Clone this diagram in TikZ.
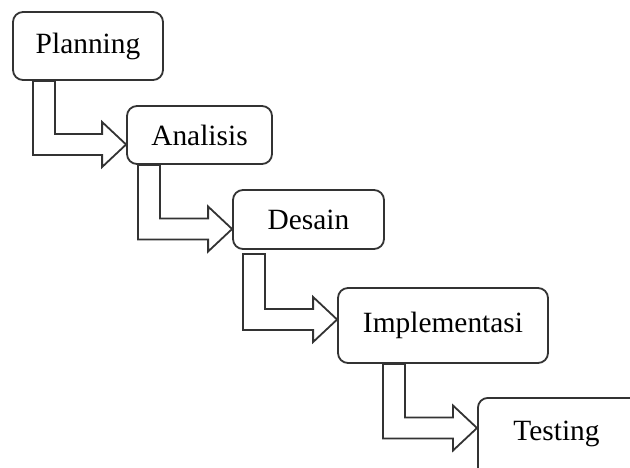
\documentclass[tikz,border=0pt]{standalone}
\usepackage{fontspec}
\setmainfont{Liberation Serif}
\usetikzlibrary{calc}
\tikzset{
  stage/.style={draw=black!80, line width=0.9pt, rounded corners=5pt, inner sep=0pt, font=\fontsize{14.7}{17}\selectfont},
  blockarr/.style={draw=black!80, line width=0.9pt, line join=miter}
}
\newcommand{\bentarrow}[4]{%
  \draw[blockarr] ($(#1 -| #3,0)+(22,0)$) -- ($(#3,#4)+(22,-10.5)$)
    -- ($(#2.west |- 0,#4)+(-24,-10.5)$) -- ($(#2.west |- 0,#4)+(-24,-22.5)$)
    -- (#2.west |- 0,#4)
    -- ($(#2.west |- 0,#4)+(-24,22.5)$) -- ($(#2.west |- 0,#4)+(-24,10.5)$)
    -- ($(#3,#4)+(0,10.5)$) -- (#1 -| #3,0) -- cycle;
}
\begin{document}
\begin{tikzpicture}[x=0.5pt, y=-0.5pt]
    \useasboundingbox (0,0) rectangle (630,467);
    \clip (0,0) rectangle (630,467);
    \node[stage, minimum width=75pt, minimum height=34pt] (plan) at (88,46) {Planning};
    \node[stage, minimum width=72.5pt, minimum height=29pt] (anal) at (199.5,135) {Analisis};
    \node[stage, minimum width=75.5pt, minimum height=29.5pt] (desn) at (308.5,219.5) {Desain};
    \node[stage, minimum width=105pt, minimum height=37.5pt] (impl) at (443,325.5) {Implementasi};
    \node[stage, anchor=north west, inner xsep=17.75pt, text width=60pt, align=left,
          text height=21.3pt, text depth=30pt] (test) at (477,397) {Testing};
    \coordinate (dgap) at (0,254);
    \bentarrow{plan.south}{anal}{33}{144.5}
    \bentarrow{anal.south}{desn}{138}{229}
    \bentarrow{dgap}{impl}{243}{319.5}
    \bentarrow{impl.south}{test}{383}{428}
\end{tikzpicture}
\end{document}
